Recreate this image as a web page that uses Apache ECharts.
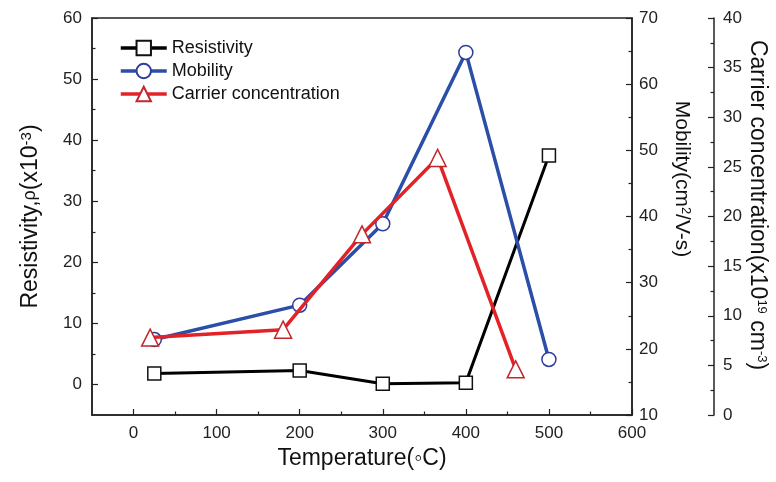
<!DOCTYPE html>
<html>
<head>
<meta charset="utf-8">
<script src="https://cdn.jsdelivr.net/npm/echarts@6/dist/echarts.min.js"></script>
<style>
html,body{margin:0;padding:0;background:#fff;}
#chart{width:776px;height:482px;}
</style>
</head>
<body>
<div id="chart"></div>
<script>
// ---- data ----
const resTemps = [25, 200, 300, 400, 500];
const resistivity = [1.8, 2.3, 0.1, 0.3, 37.5];
const mobTemps = [25, 200, 300, 400, 500];
const mobility = [21.4, 26.6, 38.9, 64.8, 18.4];
const carTemps = [20, 180, 275, 366, 460];
const carrier = [7.8, 8.6, 18.2, 25.9, 4.6];

const xTicks = [0, 100, 200, 300, 400, 500, 600];
const xMinorTicks = [50, 150, 250, 350, 450, 550];
const resTicks = [0, 10, 20, 30, 40, 50, 60];
const resMinorTicks = [5, 15, 25, 35, 45, 55];
const seriesNames = ['Resistivity', 'Mobility', 'Carrier concentration'];

const FONT = '"Liberation Sans", Arial, sans-serif';
const AX = '#222';
const pair = (xs, ys) => xs.map((x, i) => [x, ys[i]]);

const chart = echarts.init(document.getElementById('chart'), null, {renderer: 'canvas'});

const axLine = {show: true, onZero: false, lineStyle: {color: AX, width: 1.5}};
const baseY = {
  type: 'value',
  splitLine: {show: false},
  axisLine: axLine,
  axisTick: {show: true, inside: true, length: 6, lineStyle: {color: AX, width: 1.2}},
  minorTick: {show: true, splitNumber: 2, length: 3.5, lineStyle: {color: AX, width: 1.2}},
  axisLabel: {color: AX, fontSize: 17, fontFamily: FONT}
};

const option = {
  animation: false,
  backgroundColor: '#fff',
  grid: {left: 92, right: 144, top: 18, bottom: 67, show: true, borderColor: AX, borderWidth: 1.5, backgroundColor: 'transparent'},
  legend: {
    data: seriesNames,
    orient: 'vertical',
    left: 114, top: 34,
    itemWidth: 46, itemHeight: 18, itemGap: 5,
    lineStyle: {width: 3.5},
    textStyle: {fontSize: 18, fontFamily: FONT, color: '#111'}
  },
  xAxis: [
    {
      type: 'value', min: -50, max: 600, position: 'bottom',
      splitLine: {show: false},
      axisLine: axLine,
      axisTick: {show: true, inside: true, length: 6, customValues: xTicks, lineStyle: {color: AX, width: 1.2}},
      axisLabel: {customValues: xTicks, margin: 10, color: AX, fontSize: 17, fontFamily: FONT},
      name: 'Temperature(◦C)', nameLocation: 'middle', nameGap: 31,
      nameTextStyle: {fontSize: 23, fontFamily: FONT, color: '#111'}
    },
    {
      type: 'value', min: -50, max: 600, position: 'bottom',
      splitLine: {show: false},
      axisLine: {show: false, onZero: false},
      axisTick: {show: true, inside: true, length: 3.5, customValues: xMinorTicks, lineStyle: {color: AX, width: 1.2}},
      axisLabel: {show: false}
    }
  ],
  yAxis: [
    Object.assign({}, baseY, {
      position: 'left', min: -5, max: 60,
      minorTick: {show: false},
      axisTick: {show: true, inside: true, length: 6, customValues: resTicks, lineStyle: {color: AX, width: 1.2}},
      axisLabel: {customValues: resTicks, margin: 10, color: AX, fontSize: 17, fontFamily: FONT},
      name: 'Resistivity,{r|ρ}(x10{s|-3})', nameLocation: 'middle', nameRotate: 90, nameGap: 50,
      nameTextStyle: {fontSize: 23, fontFamily: FONT, color: '#111',
        rich: {r: {fontSize: 18, fontFamily: FONT, color: '#111'}, s: {fontSize: 15, fontFamily: FONT, color: '#111', verticalAlign: 'top', padding: [0, 0, 8, 0]}}}
    }),
    Object.assign({}, baseY, {
      position: 'right', min: 10, max: 70, interval: 10,
      axisLabel: {margin: 7, color: AX, fontSize: 17, fontFamily: FONT}
    }),
    Object.assign({}, baseY, {
      position: 'right', offset: 82, min: 0, max: 40, interval: 5,
      axisLabel: {margin: 9, color: AX, fontSize: 17, fontFamily: FONT}
    }),
    {
      type: 'value', position: 'left', min: -5, max: 60,
      splitLine: {show: false},
      axisLine: {show: false, onZero: false},
      axisTick: {show: true, inside: true, length: 3.5, customValues: resMinorTicks, lineStyle: {color: AX, width: 1.2}},
      axisLabel: {show: false}
    }
  ],
  graphic: [
    {
      type: 'text', x: 682, y: 179, rotation: -Math.PI / 2,
      style: {
        text: 'Mobility(cm{s|2}/V-s)', fontSize: 21, fontFamily: FONT, fill: '#111',
        textAlign: 'center', textVerticalAlign: 'middle',
        rich: {s: {fontSize: 13, fontFamily: FONT, fill: '#111', verticalAlign: 'top'}}
      }
    },
    {
      type: 'text', x: 757, y: 205, rotation: -Math.PI / 2,
      style: {
        text: 'Carrier concentration(x10{s|19} cm{s|-3})', fontSize: 23, fontFamily: FONT, fill: '#111',
        textAlign: 'center', textVerticalAlign: 'middle',
        rich: {s: {fontSize: 13, fontFamily: FONT, fill: '#111', verticalAlign: 'top'}}
      }
    }
  ],
  series: [
    {
      name: seriesNames[0], type: 'line', xAxisIndex: 0, yAxisIndex: 0,
      data: pair(resTemps, resistivity),
      symbol: 'rect', symbolSize: 13,
      lineStyle: {color: '#000', width: 3},
      itemStyle: {color: '#fff', borderColor: '#111', borderWidth: 1.5},
      z: 3
    },
    {
      name: seriesNames[1], type: 'line', xAxisIndex: 0, yAxisIndex: 1,
      data: pair(mobTemps, mobility),
      symbol: 'circle', symbolSize: 14,
      lineStyle: {color: '#2b4ea8', width: 3.5},
      itemStyle: {color: '#fff', borderColor: '#2e3c9c', borderWidth: 1.5},
      z: 4
    },
    {
      name: seriesNames[2], type: 'line', xAxisIndex: 0, yAxisIndex: 2,
      data: pair(carTemps, carrier),
      symbol: 'triangle', symbolSize: 17,
      lineStyle: {color: '#e32228', width: 3.5},
      itemStyle: {color: '#fff', borderColor: '#c4262d', borderWidth: 1.5},
      z: 5
    }
  ]
};
chart.setOption(option);
</script>
</body>
</html>
